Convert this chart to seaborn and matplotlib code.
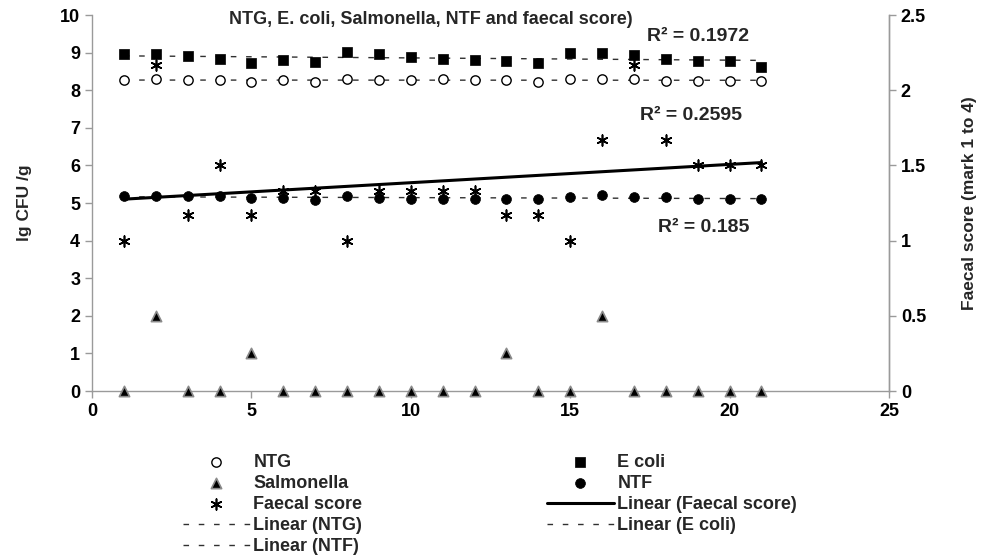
import numpy as np
import pandas as pd
import matplotlib
matplotlib.use("Agg")
import matplotlib.pyplot as plt
import seaborn as sns

# Data
day = list(range(1, 22))
ntg = [8.27, 8.29, 8.27, 8.27, 8.23, 8.27, 8.23, 8.29, 8.27, 8.27, 8.29,
       8.27, 8.27, 8.22, 8.30, 8.30, 8.30, 8.25, 8.25, 8.25, 8.25]
e_coli = [8.97, 8.97, 8.91, 8.84, 8.73, 8.80, 8.76, 9.02, 8.97, 8.89, 8.84,
          8.80, 8.77, 8.73, 8.98, 8.98, 8.93, 8.84, 8.78, 8.77, 8.63]
salmonella = [0, 2, 0, 0, 1, 0, 0, 0, 0, 0, 0, 0, 1, 0, 0, 2, 0, 0, 0, 0, 0]
ntf = [5.19, 5.19, 5.19, 5.19, 5.13, 5.12, 5.09, 5.19, 5.12, 5.11, 5.11,
       5.11, 5.10, 5.10, 5.16, 5.22, 5.17, 5.17, 5.10, 5.10, 5.10]
faecal = [1.0, 2.17, 1.17, 1.5, 1.17, 1.33, 1.33, 1.0, 1.33, 1.33, 1.33,
          1.33, 1.17, 1.17, 1.0, 1.67, 2.17, 1.67, 1.5, 1.5, 1.5]

df = pd.DataFrame({"day": day, "NTG": ntg, "E coli": e_coli,
                   "Salmonella": salmonella, "NTF": ntf, "Faecal score": faecal})

sns.set_style("white")
plt.rcParams["font.family"] = ["Liberation Sans", "DejaVu Sans"]
plt.rcParams["font.weight"] = "bold"

fig = plt.figure(figsize=(9.83, 5.55), dpi=100)
ax = fig.add_axes([92 / 983, 1 - 391 / 555, 797 / 983, 376 / 555])
ax2 = ax.twinx()

dash_kws = dict(color="#303030", lw=1, dashes=(4, 7))

# trend lines
sns.regplot(data=df, x="day", y="NTG", scatter=False, ci=None, ax=ax,
            label="Linear (NTG)", line_kws=dash_kws)
sns.regplot(data=df, x="day", y="E coli", scatter=False, ci=None, ax=ax,
            label="Linear (E coli)", line_kws=dash_kws)
sns.regplot(data=df, x="day", y="NTF", scatter=False, ci=None, ax=ax,
            label="Linear (NTF)", line_kws=dash_kws)

# markers
sns.scatterplot(data=df, x="day", y="NTG", ax=ax, marker="o", s=45,
                color="white", edgecolor="black", linewidth=1, label="NTG", zorder=3)
sns.scatterplot(data=df, x="day", y="E coli", ax=ax, marker="s", s=45,
                color="black", edgecolor="black", linewidth=0.5, label="E coli", zorder=3)
sns.scatterplot(data=df, x="day", y="Salmonella", ax=ax, marker="^", s=55,
                color="black", edgecolor="#8a8a8a", linewidth=1.2, label="Salmonella",
                zorder=3, clip_on=False)
sns.scatterplot(data=df, x="day", y="NTF", ax=ax, marker="o", s=50,
                color="black", edgecolor="black", linewidth=0.5, label="NTF", zorder=3)

sns.regplot(data=df, x="day", y="Faecal score", scatter=False, ci=None, ax=ax2,
            label="Linear (Faecal score)", line_kws=dict(color="black", lw=2.2))
sns.scatterplot(data=df, x="day", y="Faecal score", ax=ax2, marker=(6, 2, 0), s=60,
                color="black", linewidth=1.2, label="Faecal score", zorder=4)

ax.set_xlim(0, 25)
ax.set_ylim(0, 10)
ax2.set_ylim(0, 2.5)
ax.set_xticks(range(0, 26, 5))
ax.set_yticks(range(0, 11))
ax2.set_yticks([0, 0.5, 1, 1.5, 2, 2.5])
ax2.set_yticklabels(["0", "0.5", "1", "1.5", "2", "2.5"])

spine_c = "#9a9a9a"
for a in (ax, ax2):
    a.spines["top"].set_visible(False)
    for s in a.spines.values():
        s.set_color(spine_c)
        s.set_linewidth(1)
    a.tick_params(color=spine_c, length=5, width=1, labelsize=13, labelcolor="black")
    for lab in a.get_xticklabels() + a.get_yticklabels():
        lab.set_fontweight("bold")
ax2.spines["left"].set_visible(False)
ax2.spines["bottom"].set_visible(False)
ax.tick_params(axis="both", direction="out", left=True, bottom=True)
ax2.tick_params(axis="y", direction="out", right=True)

ax.set_xlabel("")
ax.set_ylabel("lg CFU /g", fontsize=12.5, fontweight="bold", labelpad=20)
ax2.set_ylabel("Faecal score (mark 1 to 4)", fontsize=12.5, fontweight="bold", labelpad=26)

if ax.get_legend():
    ax.get_legend().remove()
if ax2.get_legend():
    ax2.get_legend().remove()

ax.text(0.425, 0.987, "NTG, E. coli, Salmonella, NTF and faecal score)",
        transform=ax.transAxes, ha="center", va="center", fontsize=13, fontweight="bold")
ax.text(0.760, 0.9415, "R² = 0.1972", transform=ax.transAxes, ha="center",
        va="center", fontsize=14, fontweight="bold")
ax.text(0.752, 0.734, "R² = 0.2595", transform=ax.transAxes, ha="center",
        va="center", fontsize=14, fontweight="bold")
ax.text(0.768, 0.436, "R² = 0.185", transform=ax.transAxes, ha="center",
        va="center", fontsize=14, fontweight="bold")

# legend in two blocks like the original layout
h1, l1 = ax.get_legend_handles_labels()
h2, l2 = ax2.get_legend_handles_labels()
hmap = dict(zip(l1 + l2, h1 + h2))
col1 = ["NTG", "Salmonella", "Faecal score", "Linear (NTG)", "Linear (NTF)"]
col2 = ["E coli", "NTF", "Linear (Faecal score)", "Linear (E coli)"]
leg_kws = dict(loc="upper left", frameon=False, borderpad=0, borderaxespad=0,
               handlelength=3.7, handletextpad=0.2, labelspacing=0.22,
               prop=dict(size=13, weight="bold"))
fig.legend([hmap[k] for k in col1], col1,
           bbox_to_anchor=(183 / 983, 1 - 454 / 555), **leg_kws)
fig.legend([hmap[k] for k in col2], col2,
           bbox_to_anchor=(547 / 983, 1 - 454 / 555), **leg_kws)

fig.savefig("out.png", dpi=100)
